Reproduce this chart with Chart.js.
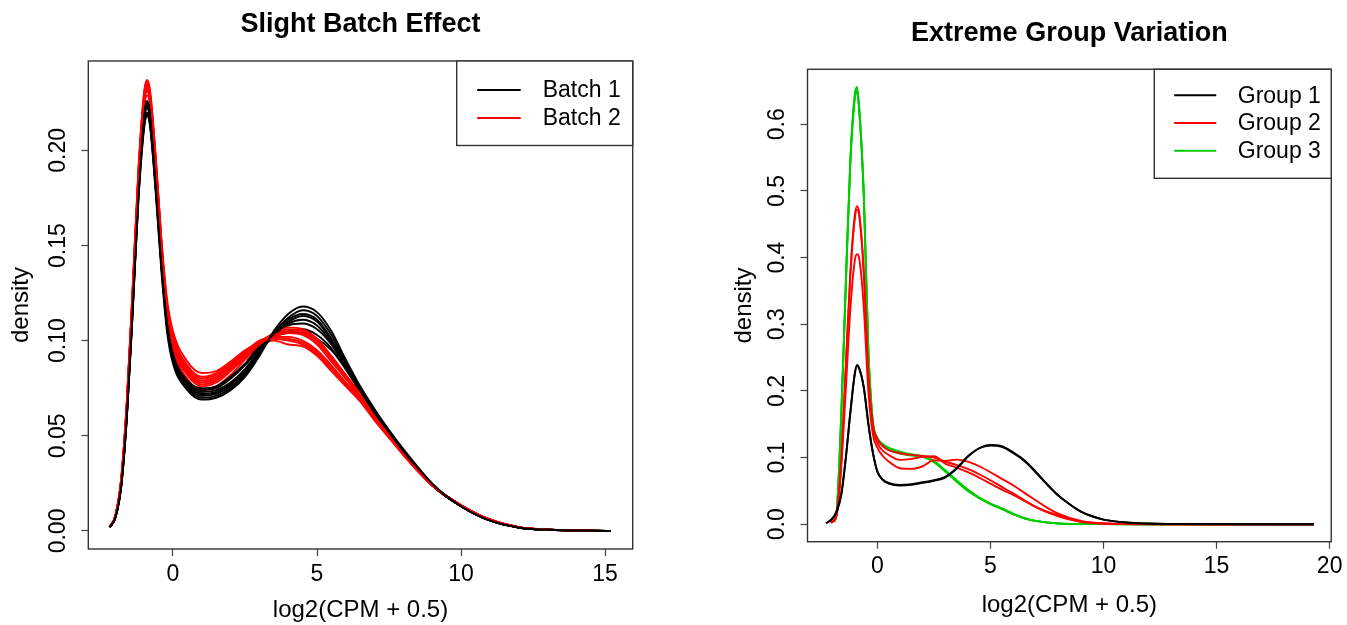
<!DOCTYPE html>
<html><head><meta charset="utf-8">
<script src="https://cdn.jsdelivr.net/npm/chart.js@4.4.1/dist/chart.umd.min.js"></script>
<style>
html,body{margin:0;padding:0;background:#fff;overflow:hidden}
#w1{position:absolute;left:0;top:0;width:680px;height:625px}
#w2{position:absolute;left:680px;top:0;width:667px;height:625px}
</style></head><body>
<div id="w1"><canvas id="c1" width="680" height="625"></canvas></div>
<div id="w2"><canvas id="c2" width="667" height="625"></canvas></div>
<script>
// ---------- Left panel: Slight Batch Effect ----------
const batchX = [-2.2,-2.0,-1.8,-1.6,-1.4,-1.2,-1.0,-0.9,-0.8,-0.6,-0.4,-0.2,0,0.5,1,1.5,2,2.5,3,3.5,4,4.5,5,5.5,6,6.5,7,7.5,8,9,10,11,12,13,15.2];
const batch1 = [
 [0.002,0.007,0.023,0.060,0.115,0.174,0.212,0.218,0.213,0.178,0.136,0.104,0.088,0.074,0.069,0.070,0.074,0.081,0.092,0.105,0.114,0.118,0.115,0.105,0.090,0.076,0.064,0.053,0.043,0.025,0.013,0.0055,0.0018,0.0006,0],
 [0.002,0.007,0.024,0.061,0.117,0.177,0.216,0.222,0.217,0.181,0.139,0.106,0.090,0.075,0.070,0.071,0.075,0.082,0.093,0.104,0.112,0.116,0.113,0.103,0.089,0.075,0.063,0.052,0.042,0.024,0.013,0.0055,0.0018,0.0006,0],
 [0.002,0.007,0.024,0.062,0.118,0.179,0.219,0.225,0.220,0.184,0.141,0.108,0.091,0.076,0.071,0.072,0.076,0.083,0.093,0.104,0.111,0.114,0.111,0.101,0.088,0.075,0.063,0.052,0.042,0.024,0.013,0.0055,0.0018,0.0006,0],
 [0.002,0.007,0.023,0.061,0.116,0.176,0.214,0.220,0.215,0.180,0.139,0.107,0.091,0.077,0.072,0.073,0.077,0.084,0.094,0.104,0.110,0.113,0.110,0.100,0.087,0.074,0.062,0.052,0.042,0.024,0.013,0.0055,0.0018,0.0006,0],
 [0.002,0.007,0.024,0.063,0.119,0.180,0.220,0.226,0.221,0.185,0.142,0.109,0.092,0.077,0.072,0.073,0.077,0.084,0.094,0.103,0.109,0.111,0.108,0.099,0.087,0.074,0.062,0.052,0.042,0.024,0.013,0.0055,0.0018,0.0006,0],
 [0.002,0.007,0.024,0.062,0.118,0.178,0.217,0.223,0.218,0.183,0.141,0.108,0.092,0.078,0.073,0.074,0.078,0.085,0.095,0.103,0.108,0.109,0.106,0.098,0.086,0.073,0.062,0.051,0.042,0.024,0.013,0.0055,0.0018,0.0006,0],
 [0.002,0.007,0.023,0.060,0.115,0.175,0.213,0.219,0.214,0.180,0.139,0.107,0.092,0.078,0.074,0.075,0.080,0.087,0.096,0.102,0.105,0.106,0.103,0.096,0.085,0.073,0.061,0.051,0.041,0.024,0.013,0.0055,0.0018,0.0006,0],
 [0.002,0.007,0.024,0.063,0.119,0.179,0.218,0.224,0.219,0.184,0.142,0.109,0.093,0.079,0.075,0.076,0.081,0.088,0.097,0.102,0.104,0.104,0.101,0.095,0.085,0.073,0.061,0.051,0.041,0.024,0.013,0.0055,0.0018,0.0006,0]
];
const batch2 = [
 [0.002,0.008,0.027,0.069,0.128,0.190,0.231,0.237,0.232,0.197,0.153,0.121,0.105,0.089,0.083,0.084,0.089,0.095,0.099,0.101,0.100,0.098,0.093,0.085,0.077,0.069,0.059,0.049,0.040,0.024,0.0135,0.006,0.002,0.0007,0],
 [0.002,0.008,0.027,0.068,0.127,0.189,0.230,0.236,0.231,0.196,0.152,0.119,0.103,0.087,0.081,0.083,0.088,0.094,0.099,0.102,0.102,0.100,0.095,0.087,0.078,0.070,0.060,0.050,0.040,0.024,0.0135,0.006,0.002,0.0007,0],
 [0.002,0.008,0.026,0.067,0.125,0.187,0.228,0.234,0.229,0.194,0.150,0.118,0.101,0.086,0.080,0.082,0.087,0.093,0.099,0.102,0.104,0.103,0.098,0.089,0.080,0.071,0.060,0.050,0.041,0.024,0.0135,0.006,0.002,0.0007,0],
 [0.002,0.008,0.026,0.067,0.125,0.186,0.227,0.233,0.228,0.193,0.149,0.116,0.099,0.084,0.078,0.080,0.086,0.093,0.099,0.103,0.105,0.104,0.099,0.090,0.080,0.071,0.060,0.050,0.041,0.024,0.0135,0.006,0.002,0.0007,0],
 [0.002,0.008,0.026,0.066,0.124,0.185,0.225,0.231,0.226,0.191,0.147,0.115,0.098,0.083,0.077,0.079,0.085,0.092,0.099,0.104,0.107,0.106,0.101,0.092,0.082,0.072,0.061,0.051,0.041,0.024,0.0135,0.006,0.002,0.0007,0],
 [0.002,0.008,0.026,0.066,0.123,0.183,0.223,0.229,0.224,0.189,0.146,0.114,0.097,0.082,0.076,0.078,0.084,0.091,0.098,0.103,0.106,0.105,0.100,0.091,0.081,0.072,0.061,0.051,0.041,0.024,0.0135,0.006,0.002,0.0007,0],
 [0.002,0.008,0.027,0.068,0.126,0.188,0.229,0.235,0.230,0.195,0.151,0.117,0.100,0.085,0.079,0.081,0.087,0.094,0.100,0.102,0.101,0.099,0.094,0.086,0.078,0.070,0.060,0.050,0.040,0.024,0.0135,0.006,0.002,0.0007,0],
 [0.002,0.008,0.026,0.067,0.124,0.186,0.226,0.232,0.227,0.192,0.148,0.114,0.096,0.080,0.074,0.076,0.082,0.090,0.097,0.100,0.098,0.097,0.092,0.084,0.076,0.068,0.058,0.049,0.040,0.024,0.0135,0.006,0.002,0.0007,0]
];
const batchLabels = ["Batch 1","Batch 2"];
const batchColors = ["#000000","#ff0000"];
const leftXTicks = [0,5,10,15];
const leftYTicks = [0,0.05,0.10,0.15,0.20];

// ---------- Right panel: Extreme Group Variation ----------
const group1X = [-2.27,-2.0,-1.8,-1.6,-1.4,-1.2,-1.0,-0.9,-0.8,-0.6,-0.4,-0.2,0,0.25,0.5,1,1.5,2,2.5,3,3.5,4,4.5,5,5.5,6,6.5,7,7.5,8,8.5,9,9.5,10,11,12,13,19.3];
const group1 = [
 [0.0015,0.008,0.019,0.043,0.097,0.165,0.225,0.239,0.234,0.206,0.152,0.108,0.079,0.066,0.061,0.058,0.059,0.062,0.065,0.070,0.083,0.101,0.114,0.119,0.117,0.108,0.096,0.079,0.060,0.043,0.030,0.019,0.012,0.007,0.0025,0.001,0.0003,0],
 [0.0015,0.008,0.020,0.045,0.099,0.167,0.226,0.238,0.233,0.204,0.150,0.107,0.079,0.067,0.062,0.059,0.060,0.063,0.066,0.071,0.084,0.102,0.114,0.118,0.116,0.107,0.095,0.078,0.060,0.043,0.030,0.019,0.012,0.007,0.0025,0.001,0.0003,0]
];
const group2X = [-2.05,-1.8,-1.6,-1.4,-1.2,-1.0,-0.9,-0.8,-0.6,-0.4,-0.2,0,0.25,0.5,1,1.5,2,2.5,3,3.5,4,4.5,5,5.5,6,6.5,7,7.5,8,9,10,11,13,19.3];
const group2 = [
 [0.002,0.016,0.095,0.235,0.375,0.463,0.477,0.466,0.380,0.225,0.150,0.128,0.117,0.111,0.1065,0.104,0.1025,0.100,0.094,0.089,0.083,0.075,0.066,0.056,0.0465,0.036,0.026,0.019,0.0135,0.004,0.001,0.0003,0,0],
 [0.002,0.015,0.092,0.230,0.370,0.458,0.472,0.462,0.375,0.220,0.145,0.122,0.110,0.104,0.0965,0.098,0.101,0.102,0.091,0.085,0.078,0.070,0.061,0.052,0.044,0.035,0.026,0.018,0.012,0.0035,0.001,0.0003,0,0],
 [0.002,0.014,0.085,0.200,0.320,0.395,0.405,0.398,0.325,0.200,0.135,0.115,0.102,0.094,0.084,0.083,0.087,0.096,0.095,0.097,0.094,0.087,0.078,0.068,0.0585,0.047,0.036,0.025,0.016,0.005,0.0012,0.0003,0,0]
];
const group3X = [-1.9,-1.8,-1.6,-1.4,-1.2,-1.0,-0.9,-0.8,-0.6,-0.4,-0.2,0,0.25,0.5,1,1.5,2,2.5,3,3.5,4,4.5,5,5.5,6,6.5,7,8,9,10,12,19.3];
const group3 = [
 [0.004,0.018,0.165,0.360,0.545,0.645,0.656,0.625,0.497,0.265,0.155,0.130,0.120,0.115,0.109,0.105,0.102,0.093,0.079,0.064,0.050,0.039,0.030,0.023,0.015,0.009,0.005,0.0012,0.0004,0.0001,0,0],
 [0.004,0.017,0.160,0.355,0.540,0.640,0.651,0.620,0.492,0.262,0.153,0.128,0.118,0.113,0.107,0.104,0.101,0.094,0.081,0.066,0.052,0.040,0.031,0.024,0.016,0.009,0.005,0.0012,0.0004,0.0001,0,0],
 [0.004,0.017,0.158,0.352,0.538,0.638,0.648,0.618,0.490,0.260,0.152,0.127,0.117,0.112,0.106,0.103,0.102,0.095,0.080,0.065,0.051,0.040,0.031,0.023,0.015,0.009,0.005,0.0012,0.0004,0.0001,0,0]
];
const groupLabels = ["Group 1","Group 2","Group 3"];
const groupColors = ["#000000","#ff0000","#00cd00"];
const rightXTicks = [0,5,10,15,20];
const rightYTicks = [0,0.1,0.2,0.3,0.4,0.5,0.6];

// ---------- helpers ----------
const FAM = "'Liberation Sans', Arial, Helvetica, sans-serif";
const TICK_SIZE = 23, TITLE_SIZE = 27, LAB_SIZE = 24, LEG_SIZE = 23, TL = 7;

function pts(xs, ys){ return ys.map((y,i)=>({x:xs[i], y:y})); }
function ds(xs, ys, color){
  return {data: pts(xs, ys), borderColor: color, backgroundColor: color, borderWidth: 1.9,
          pointRadius: 0, fill: false, cubicInterpolationMode: 'monotone', parsing: false};
}
const mctx = document.createElement('canvas').getContext('2d');
function textW(t, size){ mctx.font = size + "px " + FAM; return mctx.measureText(t).width; }

const boxPlugin = {
  id: 'rbox',
  afterDatasetsDraw(chart){
    const a = chart.chartArea, c = chart.ctx;
    c.save(); c.strokeStyle = '#333'; c.lineWidth = 1.4;
    c.strokeRect(a.left, a.top, a.right - a.left, a.bottom - a.top);
    c.restore();
  }
};
const legendPlugin = {
  id: 'rlegend',
  afterDraw(chart, args, o){
    const a = chart.chartArea, c = chart.ctx;
    const x0 = a.right - o.w, y0 = a.top;
    c.save();
    c.fillStyle = '#fff'; c.fillRect(x0, y0, o.w, o.h);
    c.strokeStyle = '#333'; c.lineWidth = 1.4; c.strokeRect(x0, y0, o.w, o.h);
    c.font = o.size + "px " + FAM; c.textBaseline = 'middle'; c.textAlign = 'left';
    o.labels.forEach((lab, i) => {
      const y = y0 + o.first + i * o.gap;
      c.strokeStyle = o.colors[i]; c.lineWidth = 1.9;
      c.beginPath(); c.moveTo(x0 + o.l1, y); c.lineTo(x0 + o.l2, y); c.stroke();
      c.fillStyle = '#000'; c.fillText(lab, x0 + o.tx, y + 1);
    });
    c.restore();
  }
};

function build(id, p){
  const widest = Math.max(...p.yTicks.map(v => textW(v.toFixed(p.yDec), TICK_SIZE)));
  const yPad = p.yLabGap - TL - widest / 2;
  return new Chart(document.getElementById(id), {
    type: 'line',
    data: {datasets: p.datasets},
    options: {
      responsive: false, animation: false, events: [],
      layout: {padding: {left: 0, right: p.W - p.area.r, top: 0, bottom: 0}},
      plugins: {
        legend: {display: false}, tooltip: {enabled: false},
        title: {display: true, text: p.title, fullSize: false, color: '#000',
                font: {family: FAM, size: TITLE_SIZE, weight: 'bold'},
                padding: {top: p.titleMid - TITLE_SIZE * 0.6, bottom: p.area.t - p.titleMid - TITLE_SIZE * 0.6}},
        rlegend: p.legend
      },
      scales: {
        x: {type: 'linear', min: p.xMin, max: p.xMax,
            afterFit(s){ s.height = 625 - p.area.b; },
            afterBuildTicks(s){ s.ticks = p.xTicks.map(v => ({value: v})); },
            grid: {drawOnChartArea: false, drawTicks: true, tickLength: TL, tickColor: '#444', tickWidth: 1.2},
            border: {display: false},
            ticks: {color: '#000', font: {family: FAM, size: TICK_SIZE}, padding: p.xPad, maxRotation: 0, minRotation: 0,
                    callback: v => String(v)},
            title: {display: true, text: 'log2(CPM + 0.5)', color: '#000', font: {family: FAM, size: LAB_SIZE},
                    padding: {top: 0, bottom: p.xTitleBottom}}},
        y: {type: 'linear', min: p.yMin, max: p.yMax,
            afterFit(s){ s.width = p.area.l; },
            afterBuildTicks(s){ s.ticks = p.yTicks.map(v => ({value: v})); },
            grid: {drawOnChartArea: false, drawTicks: true, tickLength: TL, tickColor: '#444', tickWidth: 1.2},
            border: {display: false},
            ticks: {color: '#000', font: {family: FAM, size: TICK_SIZE}, padding: yPad, crossAlign: 'center',
                    minRotation: 90, maxRotation: 90, callback: v => Number(v).toFixed(p.yDec)},
            title: {display: true, text: 'density', color: '#000', font: {family: FAM, size: LAB_SIZE},
                    padding: {top: p.yTitleX - LAB_SIZE * 0.6, bottom: 0}}}
      }
    },
    plugins: [boxPlugin, legendPlugin]
  });
}

// left datasets (interleaved so neither batch fully covers the other)
const leftSets = [];
for (let i = 0; i < batch1.length; i++){
  leftSets.push(ds(batchX, batch1[i], batchColors[0]));
  leftSets.push(ds(batchX, batch2[i], batchColors[1]));
}
const rightSets = [];
group1.forEach(y => rightSets.push(ds(group1X, y, groupColors[0])));
group2.forEach(y => rightSets.push(ds(group2X, y, groupColors[1])));
group3.forEach(y => rightSets.push(ds(group3X, y, groupColors[2])));

build('c1', {
  W: 680, area: {l: 88.3, t: 61, r: 632.7, b: 549},
  datasets: leftSets, title: 'Slight Batch Effect', titleMid: 25,
  xMin: -2.94, xMax: 15.96, xTicks: leftXTicks,
  yMin: -0.0095, yMax: 0.247, yTicks: leftYTicks, yDec: 2,
  xPad: 4.5, xTitleBottom: 0, yTitleX: 21, yLabGap: 29.5,
  legend: {w: 176, h: 84.5, first: 29, gap: 28, l1: 20.5, l2: 64, tx: 86, size: LEG_SIZE,
           labels: batchLabels, colors: batchColors}
});
build('c2', {
  W: 667, area: {l: 127.5, t: 69.3, r: 657, b: 541.7},
  datasets: rightSets, title: 'Extreme Group Variation', titleMid: 33.5,
  xMin: -3.09, xMax: 20.07, xTicks: rightXTicks,
  yMin: -0.0262, yMax: 0.6825, yTicks: rightYTicks, yDec: 1,
  xPad: 4.5, xTitleBottom: 5, yTitleX: 64.4, yLabGap: 29.5,
  legend: {w: 177, h: 109, first: 26, gap: 27.7, l1: 20, l2: 62, tx: 83.5, size: LEG_SIZE,
           labels: groupLabels, colors: groupColors}
});
</script>
</body></html>
